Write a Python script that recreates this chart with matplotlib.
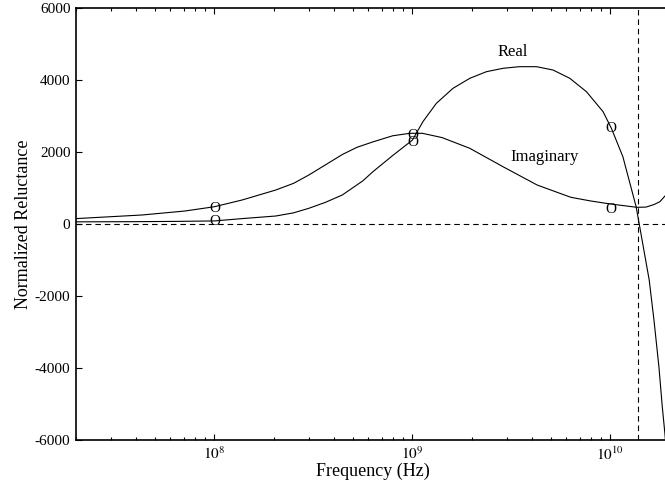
import matplotlib
matplotlib.use("Agg")
import matplotlib.pyplot as plt
import numpy as np
from matplotlib.ticker import LogLocator, FixedLocator, NullFormatter

plt.rcParams['font.family'] = ['Liberation Serif', 'DejaVu Serif']
plt.rcParams['mathtext.fontset'] = 'stix'

# log10 of frequency (Hz) for the sampled curve points
real_logf = [7.301, 7.6, 7.8, 8.0, 8.14, 8.31, 8.4, 8.477, 8.56, 8.646, 8.75, 8.8,
             8.9, 9.0, 9.054, 9.121, 9.205, 9.29, 9.374, 9.458, 9.54, 9.627,
             9.71, 9.795, 9.879, 9.963, 10.005, 10.063, 10.13, 10.16, 10.196,
             10.22, 10.245, 10.262, 10.275, 10.285]
real_vals = [60, 65, 72, 85, 150, 222, 310, 436, 600, 806, 1200, 1450,
             1900, 2330, 2850, 3352, 3769, 4047, 4231, 4325, 4370, 4370,
             4278, 4047, 3675, 3120, 2658, 1870, 480, -444, -1556,
             -2667, -3964, -5075, -5806, -6500]

imag_logf = [7.301, 7.634, 7.85, 8.0, 8.14, 8.31, 8.4, 8.477, 8.56, 8.646, 8.72,
             8.8, 8.9, 8.986, 9.05, 9.15, 9.29, 9.457, 9.63, 9.80, 9.9, 10.0,
             10.135, 10.18, 10.22, 10.25, 10.276, 10.3]
imag_vals = [150, 250, 360, 480, 667, 944, 1130, 1361, 1640, 1930, 2130,
             2280, 2450, 2519, 2520, 2400, 2102, 1593, 1083, 742, 640, 556,
             463, 470, 540, 620, 780, 900]

# "O" marks at decades
mark_f = [1e8, 1e9, 1e10]
real_marks = [70, 2260, 2660]
imag_marks = [440, 2470, 410]

cutoff_f = 1.38e10

W, H = 665, 487
fig = plt.figure(figsize=(W / 100, H / 100), dpi=100)
ax = fig.add_axes([76 / W, 47 / H, (670 - 76) / W, (440 - 8) / H])

rf = 10 ** np.array(real_logf)
imf = 10 ** np.array(imag_logf)
ax.plot(rf, real_vals, color='black', lw=0.8)
ax.plot(imf, imag_vals, color='black', lw=0.8)

ax.axhline(0, color='black', lw=0.8, dashes=(5, 3.5))
ax.axvline(cutoff_f, color='black', lw=0.8, dashes=(5, 3.5))

for f, v in zip(mark_f, real_marks):
    ax.text(f, v, 'O', ha='center', va='center', fontsize=11)
for f, v in zip(mark_f, imag_marks):
    ax.text(f, v, 'O', ha='center', va='center', fontsize=11)

ax.text(3.21e9, 4786, 'Real', ha='center', va='center', fontsize=12)
ax.text(4.67e9, 1870, 'Imaginary', ha='center', va='center', fontsize=12)

ax.set_xscale('log')
ax.set_xlim(2e7, 2e10)
ax.set_ylim(-6000, 6000)
ax.set_yticks([-6000, -4000, -2000, 0, 2000, 4000, 6000])
ax.set_yticklabels(['-6000', '-4000', '-2000', '0', '2000', '4000', '6000'])
ax.xaxis.set_major_locator(FixedLocator([1e8, 1e9, 1e10]))
ax.set_xticklabels([r'$10^{8}$', r'$10^{9}$', r'$10^{10}$'])
ax.xaxis.set_minor_locator(LogLocator(base=10, subs=np.arange(2, 10)))
ax.xaxis.set_minor_formatter(NullFormatter())

ax.tick_params(axis='both', which='both', direction='in', top=True, right=False,
               labelsize=11, width=0.8)
ax.tick_params(axis='both', which='major', length=4, pad=4)
ax.tick_params(axis='both', which='minor', length=2)
for s in ax.spines.values():
    s.set_linewidth(1.2)

ax.set_xlabel('Frequency (Hz)', fontsize=13, labelpad=0)
ax.set_ylabel('Normalized Reluctance', fontsize=13, labelpad=2)

fig.savefig('out.png', dpi=100)
